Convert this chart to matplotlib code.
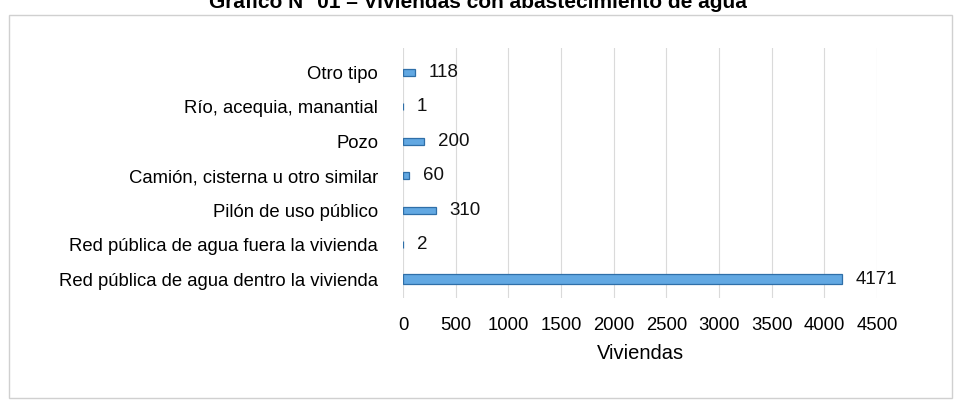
import matplotlib.pyplot as plt
from matplotlib.patches import Rectangle

categorias = ["Red pública de agua dentro la vivienda",
              "Red pública de agua fuera la vivienda",
              "Pilón de uso público",
              "Camión, cisterna u otro similar",
              "Pozo",
              "Río, acequia, manantial",
              "Otro tipo"]
viviendas = [4171, 2, 310, 60, 200, 1, 118]
ticks_x = [0, 500, 1000, 1500, 2000, 2500, 3000, 3500, 4000, 4500]
titulo = "Gráfico N° 01 – Viviendas con abastecimiento de agua"

plt.rcParams['font.family'] = ['Liberation Sans', 'DejaVu Sans']

fig = plt.figure(figsize=(9.56, 4.03), dpi=100)
ax = fig.add_axes([403/956, 1-298/403, 474/956, 250/403])

y = list(range(len(categorias)))
alturas = [0.3 if v > 1000 else 0.2 for v in viviendas]
ax.barh(y, viviendas, height=alturas, color='#62A8E2', edgecolor='#2F6FA8', linewidth=0.9)
for yi, v in zip(y, viviendas):
    ax.text(v + 130, yi, str(v), va='center', ha='left', fontsize=13.5, color='#111111')

ax.set_xlim(0, 4500)
ax.set_ylim(-0.55, 6.7)
ax.set_xticks(ticks_x)
ax.set_yticks(y)
ax.set_yticklabels(categorias, fontsize=13.3)
ax.tick_params(axis='x', labelsize=13.3, length=0, pad=14)
ax.tick_params(axis='y', length=0, pad=18)
ax.grid(axis='x', color='#DADADA', linewidth=0.8)
ax.set_axisbelow(True)
for s in ax.spines.values():
    s.set_visible(False)
ax.set_xlabel("Viviendas", fontsize=14.5, labelpad=7)

# marco del gráfico
fig.patches.append(Rectangle((9/956, 5/403), 943/956, 383/403, transform=fig.transFigure,
                             fill=False, edgecolor='#D0D0D0', linewidth=1))
fig.text(0.5, 1-8/403, titulo, ha='center', va='baseline', fontsize=15, fontweight='bold')

fig.savefig('out.png', dpi=100)
